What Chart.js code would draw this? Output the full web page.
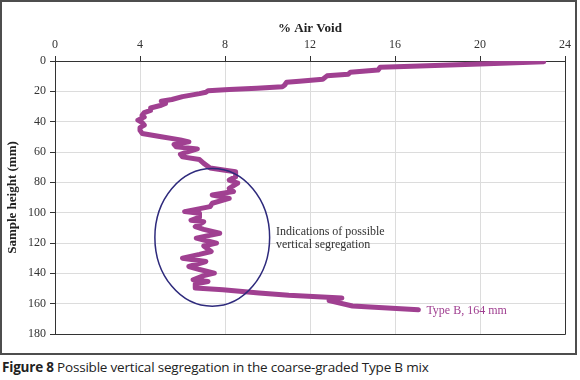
<!DOCTYPE html>
<html>
<head>
<meta charset="utf-8">
<script src="https://cdn.jsdelivr.net/npm/chart.js@4"></script>
<style>
  body { margin: 0; background: #fff; }
  #frame { position: absolute; left: 0; top: 0; width: 577px; height: 355px; border: 2px solid #4d4d4d; box-sizing: border-box; }
  #frame canvas { display: block; }
  #caption { position: absolute; left: 2px; top: 358px; font-family: "Open Sans", sans-serif; font-size: 13.5px; color: #222; white-space: nowrap; letter-spacing: -0.2px; }
</style>
</head>
<body>
<div id="frame"><canvas id="voids" width="573" height="351"></canvas></div>
<div id="caption"><b>Figure 8</b> Possible vertical segregation in the coarse-graded Type B mix</div>
<script>
// % air void read along the core, top to bottom
var airVoid = [23.0, 20.0, 16.8, 15.3, 15.2, 13.9, 13.8, 12.8, 12.6, 11.5, 10.9, 10.8, 10.7, 9.5, 8.2,
  7.2, 7.1, 6.8, 6.0, 5.5, 5.0, 5.2, 5.0, 4.5, 4.5, 4.2, 4.1, 4.2, 3.9, 4.1, 4.2, 4.0, 4.0, 4.1,
  5.0, 5.9, 6.3, 5.6, 5.7, 6.7, 6.2, 5.9, 6.0, 6.8, 7.0, 7.3, 8.0, 8.5, 8.5, 8.2, 8.6, 8.2, 8.4,
  7.4, 8.2, 7.4, 7.3, 6.1, 6.8, 6.8, 6.4, 7.0, 6.6, 7.0, 7.75, 6.65, 7.0, 7.6, 7.0, 7.35, 6.8,
  6.0, 7.1, 6.3, 6.8, 7.5, 7.0, 6.5, 7.2, 6.6, 6.6, 7.9, 9.6, 11.0, 13.5, 12.9, 14.0, 17.1];
// sample height (mm)
var sampleHeight = [0.5, 2.0, 3.4, 4.2, 6.0, 7.4, 8.8, 9.8, 12.0, 13.4, 14.0, 16.0, 17.0, 18.0, 18.8,
  19.6, 20.6, 21.5, 23.5, 25.4, 26.5, 28.0, 29.2, 31.0, 32.5, 34.0, 35.8, 37.0, 39.0, 40.5, 42.3, 44.0, 45.6, 47.8,
  50.0, 52.0, 53.3, 55.0, 56.5, 58.0, 60.0, 61.5, 63.2, 65.0, 67.5, 70.5, 72.0, 73.0, 76.3, 78.5, 80.5, 84.0, 86.0,
  88.4, 90.6, 93.8, 96.0, 99.3, 100.4, 103.0, 105.0, 106.0, 109.2, 111.0, 113.6, 116.8, 118.0, 120.1, 122.0, 125.6, 127.5,
  130.0, 132.2, 135.5, 137.5, 139.9, 141.5, 144.3, 145.4, 147.0, 149.7, 150.9, 153.0, 154.5, 156.3, 158.0, 161.5, 164.0];
var seriesName = 'Type B, 164 mm';
var noteLines = ['Indications of possible', 'vertical segregation'];

var points = airVoid.map(function (v, i) { return { x: v, y: sampleHeight[i] }; });

var serif = '"Liberation Serif", "DejaVu Serif", serif';

// ellipse, note, series label and right/bottom border of the plot
var extras = {
  id: 'extras',
  afterDatasetsDraw: function (chart) {
    var c = chart.ctx, a = chart.chartArea, xs = chart.scales.x, ys = chart.scales.y;
    c.save();
    c.strokeStyle = '#333';
    c.lineWidth = 1;
    c.beginPath();
    c.moveTo(a.right + 0.5, a.top);
    c.lineTo(a.right + 0.5, a.bottom + 0.5);
    c.lineTo(a.left, a.bottom + 0.5);
    c.stroke();

    var cx = xs.getPixelForValue(7.4), cy = ys.getPixelForValue(116.3);
    var rx = xs.getPixelForValue(7.4 + 2.7) - cx, ry = ys.getPixelForValue(116.3 + 45.4) - cy;
    c.strokeStyle = '#2e2a7c';
    c.lineWidth = 1.5;
    c.beginPath();
    c.ellipse(cx, cy, rx, ry, 0, 0, Math.PI * 2);
    c.stroke();

    c.font = '12px ' + serif;
    c.fillStyle = '#333';
    c.textBaseline = 'middle';
    var nx = xs.getPixelForValue(10.4), ny = ys.getPixelForValue(112.5);
    c.fillText(noteLines[0], nx, ny);
    c.fillText(noteLines[1], nx, ny + 13);

    var last = points[points.length - 1];
    c.fillStyle = '#a04091';
    c.fillText(seriesName, xs.getPixelForValue(last.x) + 8, ys.getPixelForValue(last.y) + 1);
    c.restore();
  }
};

new Chart(document.getElementById('voids').getContext('2d'), {
  type: 'scatter',
  data: {
    datasets: [{
      label: seriesName,
      data: points,
      showLine: true,
      borderColor: '#a04091',
      borderWidth: 5,
      pointRadius: 0,
      tension: 0,
      borderJoinStyle: 'round',
      borderCapStyle: 'round'
    }]
  },
  options: {
    responsive: false,
    animation: false,
    layout: { padding: { right: 9, bottom: 19 } },
    plugins: { legend: { display: false }, tooltip: { enabled: false } },
    scales: {
      x: {
        type: 'linear',
        position: 'top',
        min: 0, max: 24,
        ticks: { stepSize: 4, color: '#333', padding: 4, font: { family: serif, size: 12 } },
        grid: { color: '#dcdcdc', tickColor: '#333', tickLength: 5 },
        border: { color: '#333' },
        title: { display: true, text: '% Air Void', color: '#222', padding: { top: 19, bottom: 0 }, font: { family: serif, size: 13, weight: 'bold' } },
        afterFit: function (s) { s.height = 59; }
      },
      y: {
        type: 'linear',
        reverse: true,
        min: 0, max: 180,
        ticks: { stepSize: 20, color: '#333', padding: 4, font: { family: serif, size: 12 } },
        grid: { color: '#dcdcdc', tickColor: '#333', tickLength: 5 },
        border: { color: '#333' },
        title: { display: true, text: 'Sample height (mm)', color: '#222', padding: { top: 3, bottom: 0 }, font: { family: serif, size: 13, weight: 'bold' } },
        afterFit: function (s) { s.width = 53; }
      }
    }
  },
  plugins: [extras]
});
</script>
</body>
</html>
